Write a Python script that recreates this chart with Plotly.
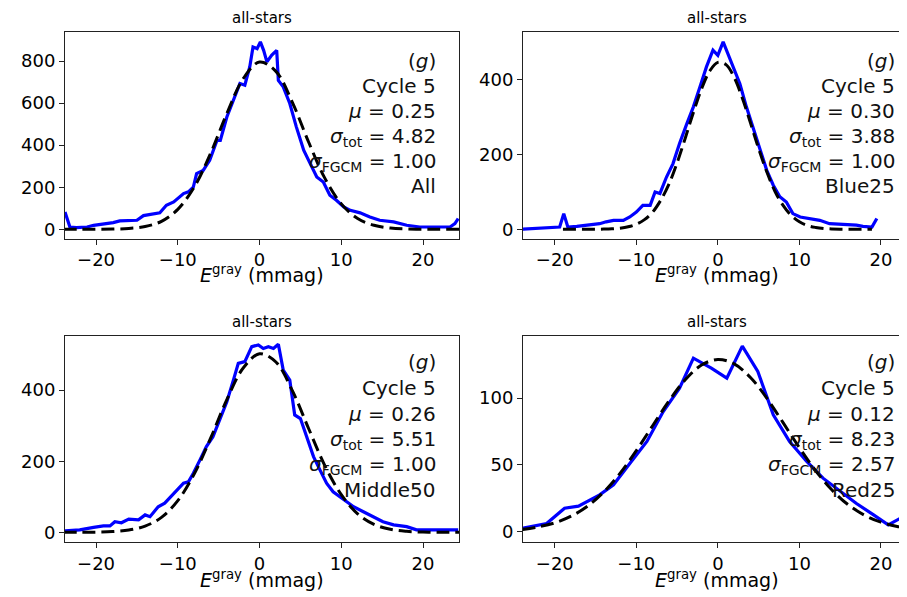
import plotly.graph_objects as go

# the page body adds an 8 px margin, so the figure is drawn 8 px smaller and
# every pixel position below is measured in window pixels and shifted by OFF
OFF = 8
W, H = 907 - OFF, 597 - OFF

# ---------------- data ----------------
# Panel 1: All
p1_x = [-23.8, -23.2, -22.4, -21.1, -20.3, -19.1, -17.9, -17.1, -16.2, -15.0, -14.2, -13.0, -12.2,
        -11.4, -10.5, -9.3, -8.7, -8.1, -7.7, -6.9, -6.1, -5.2, -4.8, -4.0, -3.2, -2.4, -1.8, -1.2,
        -0.8, -0.3, 0.1, 0.5, 0.9, 1.5, 2.1, 2.3, 2.9, 3.7, 4.5, 5.4, 6.2, 7.0, 7.8, 8.6, 9.4, 10.3,
        11.1, 12.3, 13.5, 14.7, 16.4, 18.0, 19.6, 21.7, 23.3, 23.9, 24.3]
p1_y = [82, 11, 8, 11, 19, 24, 32, 40, 40, 43, 65, 74, 78,
        114, 130, 170, 178, 201, 265, 280, 328, 423, 423, 534, 613, 693, 685, 772,
        867, 859, 891, 851, 796, 828, 851, 708, 677, 598, 487, 376, 312, 249, 225, 162, 138, 106,
        90, 78, 59, 43, 35, 19, 11, 11, 11, 27, 51]
p1_fit_x = [-24, -22, -20, -18, -16, -14, -12, -10, -8, -6, -4, -2, 0, 2, 4, 6, 8, 10, 12, 14,
            16, 18, 20, 22, 24.4]
p1_fit_y = [0, 0, 0.2, 1, 4, 13, 38, 95, 200, 360, 550, 716, 795, 751, 605, 415, 242, 121, 51,
            19, 6, 1.5, 0.3, 0, 0]

# Panel 2: Blue25
p2_x = [-24.1, -22.2, -20.6, -19.4, -18.9, -18.4, -17.3, -15.7, -14.5, -13.7, -12.8, -11.6, -10.8,
        -10.0, -9.2, -8.3, -7.7, -7.1, -6.3, -5.5, -4.7, -3.8, -3.0, -2.2, -1.4, -0.6, 0.0, 0.65,
        1.3, 1.9, 2.7, 3.5, 4.3, 5.2, 6.0, 6.8, 7.6, 8.4, 9.2, 10.1, 11.3, 12.5, 13.7, 15.4, 17.0,
        17.8, 18.9, 19.5]
p2_y = [0, 2, 4, 6, 42, 6, 8, 11, 15, 20, 24, 24, 33,
        46, 64, 64, 100, 96, 140, 176, 230, 283, 328, 381, 435, 480, 466, 502,
        466, 435, 390, 328, 274, 212, 158, 118, 87, 73, 42, 33, 29, 24, 15, 13, 11,
        8, 6, 29]
p2_fit_x = [-19, -18, -17, -16, -15, -14, -13, -12, -11, -10, -9, -8, -7, -6, -5, -4, -3, -2, -1,
            0, 1, 2, 3, 4, 5, 6, 7, 8, 9, 10, 11, 12, 13, 14, 15, 16, 17, 18, 18.9]
p2_fit_y = [0, 0, 0, 0.1, 0.2, 0.5, 1.3, 3, 6.7, 13.7, 26, 46, 78, 121, 178, 244, 313, 376, 424,
            447, 441, 407, 352, 285, 216, 154, 102, 64, 37, 20, 10, 5, 2.2, 0.9, 0.3, 0.1, 0, 0, 0]

# Panel 3: Middle50
p3_x = [-23.8, -22.0, -20.3, -19.1, -18.3, -17.7, -16.9, -16.0, -14.8, -14.0, -13.4, -12.4, -11.6,
        -10.9, -10.1, -9.3, -8.7, -8.1, -7.3, -6.5, -5.7, -4.8, -4.0, -3.2, -2.6, -1.8, -0.95,
        -0.15, 0.46, 1.08, 1.7, 2.3, 2.9, 3.7, 4.3, 5.0, 5.8, 6.6, 7.4, 8.2, 9.0, 9.8, 10.7, 11.5,
        12.7, 13.9, 15.1, 16.4, 18.0, 19.2, 20.9, 22.5, 24.3]
p3_y = [4, 7, 14, 18, 18, 30, 27, 37, 35, 49, 44, 72, 82,
        100, 119, 138, 142, 166, 203, 241, 269, 320, 367, 428, 475, 480, 522,
        527, 517, 522, 517, 529, 456, 428, 330, 320, 269, 213, 175, 138, 114, 100, 86, 72,
        58, 44, 30, 21, 16, 7, 7, 7, 7]
p3_fit_x = [-24, -22, -20, -18, -16, -14, -12, -10, -8, -6, -4, -2, 0, 2, 4, 6, 8, 10, 12, 14,
            16, 18, 20, 22, 24.4]
p3_fit_y = [0, 0.1, 0.6, 2.1, 6.4, 17.6, 42, 89, 164, 264, 373, 462, 502, 479, 399, 292, 187,
            106, 52, 22.5, 8.5, 2.8, 0.8, 0.2, 0]

# Panel 4: Red25
p4_x = [-23.9, -21.0, -18.8, -17.1, -14.5, -12.8, -10.8, -8.7, -6.7, -4.7, -3.0, -0.8, 1.1, 3.0,
        4.9, 6.8, 8.8, 10.9, 12.9, 15.0, 17.0, 19.1, 20.9, 22.7, 23.2]
p4_y = [2.5, 6, 17.5, 19, 27.5, 35, 51, 67.5, 90, 107.5, 130, 122.5, 115, 139,
        120, 87.5, 67.5, 52.5, 40, 30, 21, 12.5, 5, 11, 9]
p4_fit_x = [-24, -22, -20, -18, -16, -14, -12, -10, -8, -6, -4, -2, 0, 2, 4, 6, 8, 10, 12, 14,
            16, 18, 20, 22, 23.2]
p4_fit_y = [1.5, 3.5, 6.5, 11.5, 18.9, 29.6, 43.6, 60.6, 79.3, 97.8, 113.8, 124.8, 129, 125.7,
            115.5, 100, 81.6, 62.8, 45.5, 31.1, 20, 12.2, 7, 3.8, 2.5]

panel_titles = ["all-stars", "all-stars", "all-stars", "all-stars"]
panel_text = [
    ["(<i>g</i>)", "Cycle 5", "<i>μ</i> = 0.25", "<i>σ</i><sub>tot</sub> = 4.82",
     "<i>σ</i><sub>FGCM</sub> = 1.00", "All"],
    ["(<i>g</i>)", "Cycle 5", "<i>μ</i> = 0.30", "<i>σ</i><sub>tot</sub> = 3.88",
     "<i>σ</i><sub>FGCM</sub> = 1.00", "Blue25"],
    ["(<i>g</i>)", "Cycle 5", "<i>μ</i> = 0.26", "<i>σ</i><sub>tot</sub> = 5.51",
     "<i>σ</i><sub>FGCM</sub> = 1.00", "Middle50"],
    ["(<i>g</i>)", "Cycle 5", "<i>μ</i> = 0.12", "<i>σ</i><sub>tot</sub> = 8.23",
     "<i>σ</i><sub>FGCM</sub> = 2.57", "Red25"],
]
x_ticks = [-20, -10, 0, 10, 20]
x_ticklabels = ["−20", "−10", "0", "10", "20"]
y_ticks = [[0, 200, 400, 600, 800], [0, 200, 400], [0, 200, 400], [0, 50, 100]]
x_title = "<i>E</i><sup>gray</sup> (mmag)"

# ---------------- layout geometry (window pixels) ----------------
FONT = "DejaVu Sans"
panels = [
    dict(x0=65, x1=459, y0=32, y1=238.7, xr=[-23.8, 24.4], yr=[-44.7, 938], right=False,
         tx=438, ty=[61, 86.5, 111.5, 136.5, 161.5, 186.5], cx=262, titley=18, xty=274),
    dict(x0=523, x1=907, y0=32, y1=238.7, xr=[-23.9, 23.2], yr=[-25.2, 528.5], right=True,
         tx=896.7, ty=[61, 86.5, 111.5, 136.5, 161.5, 186.5], cx=717, titley=18, xty=274),
    dict(x0=65, x1=459, y0=336, y1=542.3, xr=[-23.8, 24.4], yr=[-28, 552], right=False,
         tx=438, ty=[362, 388, 414, 440, 465, 490], cx=262, titley=322, xty=579),
    dict(x0=523, x1=907, y0=336, y1=542.3, xr=[-23.9, 23.2], yr=[-8.1, 146.6], right=True,
         tx=896.7, ty=[362, 388, 414, 440, 465, 490], cx=717, titley=322, xty=579),
]
series = [(p1_x, p1_y, p1_fit_x, p1_fit_y), (p2_x, p2_y, p2_fit_x, p2_fit_y),
          (p3_x, p3_y, p3_fit_x, p3_fit_y), (p4_x, p4_y, p4_fit_x, p4_fit_y)]


def px(v):
    return min(max((v - OFF) / W, 0.0), 1.0)


def py(v):
    return min(max(1 - (v - OFF) / H, 0.0), 1.0)


fig = go.Figure()
annotations = []
for i, (p, s) in enumerate(zip(panels, series)):
    n = "" if i == 0 else str(i + 1)
    xa, ya = "x" + n, "y" + n
    bx, by, fx, fy = s
    fig.add_trace(go.Scatter(x=bx, y=by, mode="lines", xaxis=xa, yaxis=ya,
                             line=dict(color="#0000ff", width=3.2), showlegend=False))
    fig.add_trace(go.Scatter(x=fx, y=fy, mode="lines", xaxis=xa, yaxis=ya,
                             line=dict(color="black", width=3, dash="13px,6px", shape="spline"),
                             showlegend=False))
    common = dict(showgrid=False, zeroline=False, showline=True, linecolor="#222",
                  linewidth=1, ticks="outside", ticklen=5, tickcolor="#222",
                  tickfont=dict(family=FONT, size=18, color="black"))
    fig.layout["xaxis" + n] = dict(
        domain=[px(p["x0"]), px(p["x1"])], range=p["xr"], anchor=ya, mirror=True,
        tickvals=x_ticks, ticktext=x_ticklabels, **common)
    fig.layout["yaxis" + n] = dict(
        domain=[py(p["y1"]), py(p["y0"])], range=p["yr"], anchor=xa,
        mirror=not p["right"], tickvals=y_ticks[i], ticktext=[str(v) for v in y_ticks[i]],
        **common)
    for line, ty in zip(panel_text[i], p["ty"]):
        annotations.append(dict(text=line, xref="paper", yref="paper", x=px(p["tx"]),
                                y=py(ty), xanchor="right", yanchor="middle",
                                showarrow=False,
                                font=dict(family=FONT, size=20, color="#111")))
    annotations.append(dict(text=panel_titles[i], xref="paper", yref="paper", x=px(p["cx"]),
                            y=py(p["titley"]), xanchor="center", yanchor="middle",
                            showarrow=False, font=dict(family=FONT, size=15, color="black")))
    annotations.append(dict(text=x_title, xref="paper", yref="paper", x=px(p["cx"]),
                            y=py(p["xty"]), xanchor="center", yanchor="middle",
                            showarrow=False, font=dict(family=FONT, size=19, color="black")))

fig.update_layout(width=W, height=H, margin=dict(l=0, r=0, t=0, b=0),
                  paper_bgcolor="white", plot_bgcolor="white", annotations=annotations,
                  font=dict(family=FONT))
fig.write_html("out.html")
